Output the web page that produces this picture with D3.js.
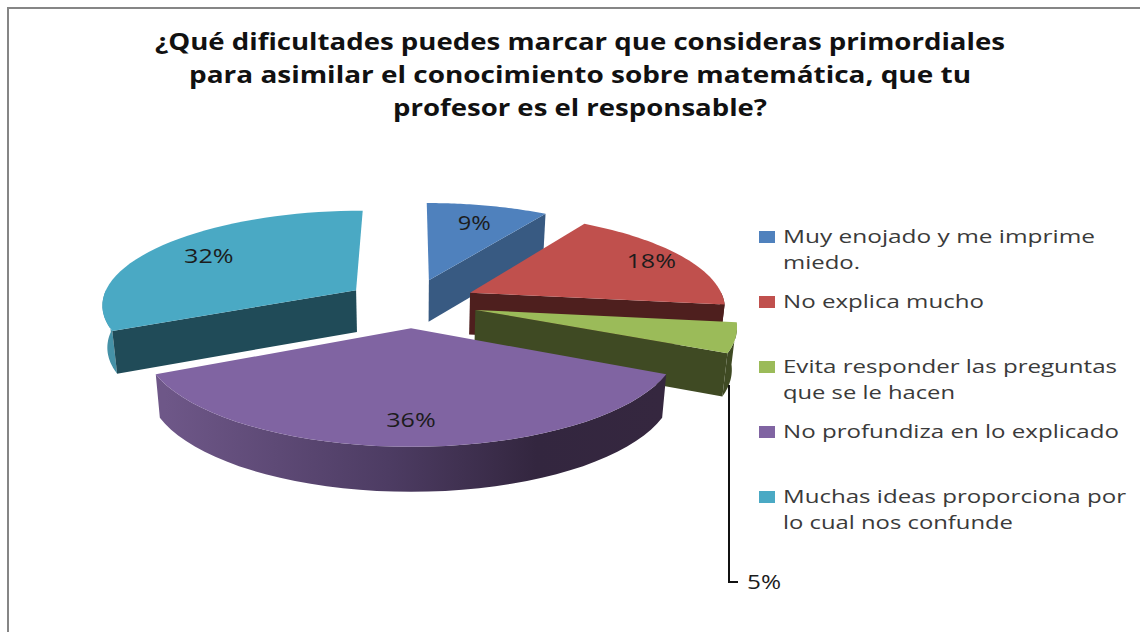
<!DOCTYPE html>
<html>
<head>
<meta charset="utf-8">
<script src="https://cdn.jsdelivr.net/npm/d3@7"></script>
<style>
  html, body { margin: 0; padding: 0; background: #fff; }
  svg { display: block; }
  text { font-family: "Open Sans", sans-serif; }
</style>
</head>
<body>
<svg id="chart" width="1140" height="632"></svg>
<script>
// values
var categories = ["Muy enojado y me imprime miedo.", "No explica mucho",
  "Evita responder las preguntas que se le hacen", "No profundiza en lo explicado",
  "Muchas ideas proporciona por lo cual nos confunde"];
var values = [9, 18, 5, 36, 32];
var titleLines = ["¿Qué dificultades puedes marcar que consideras primordiales",
  "para asimilar el conocimiento sobre matemática, que tu",
  "profesor es el responsable?"];
var legendLines = [["Muy enojado y me imprime", "miedo."], ["No explica mucho"],
  ["Evita responder las preguntas", "que se le hacen"], ["No profundiza en lo explicado"],
  ["Muchas ideas proporciona por", "lo cual nos confunde"]];

var topColors = ["#4f81bd", "#c0504d", "#9bbb59", "#8064a2", "#4aa9c4"];
var sideColors = ["#385a82", "#4e1f1e", "#3f4a23", "#4a3a60", "#204b58"];
var titleWidths = [850, 782, 374];
var legendWidths = [[312, 77], [201], [334, 172], [336], [343, 230]];
var labelRadius = [0.75, 0.85, 0, 0.8, 0.75];

var svg = d3.select("#chart");
var cx = 411, cy = 303;
var explode = 0.26, persp = 0.14;

var x = d3.scaleLinear().domain([-1, 1]).range([cx - 255, cx + 255]);
var y = d3.scaleLinear().domain([-1, 1]).range([cy + 94, cy - 94]);

var pie = d3.pie().sort(null).value(d => d);
var arcs = pie(values);

// ground plane to screen, with a little perspective
function project(px, py) {
  var s = 1 / (1 + persp * py);
  return {x: cx + (x(px) - cx) * s, y: cy + (y(py) - cy) * s, s: s};
}
function topPoint(d, a, r) {
  var mid = (d.startAngle + d.endAngle) / 2;
  return project(explode * Math.sin(mid) + r * Math.sin(a), explode * Math.cos(mid) + r * Math.cos(a));
}
function lower(p) {
  return {x: cx + (p.x - cx) * 0.984, y: p.y + 28 + 14 * p.s};
}
function arcPoints(d, a0, a1) {
  return d3.range(0, 41).map(i => topPoint(d, a0 + (a1 - a0) * i / 40, 1));
}
var line = d3.line().x(d => d.x).y(d => d.y);

var defs = svg.append("defs");
var grad = defs.append("linearGradient").attr("id", "purpleWall")
  .attr("gradientUnits", "userSpaceOnUse")
  .attr("x1", 165).attr("x2", 660).attr("y1", 0).attr("y2", 0);
grad.append("stop").attr("offset", "0").attr("stop-color", "#6e5788");
grad.append("stop").attr("offset", "0.45").attr("stop-color", "#4d3c63");
grad.append("stop").attr("offset", "0.75").attr("stop-color", "#33263f");
grad.append("stop").attr("offset", "1").attr("stop-color", "#35273f");

// frame
svg.append("path")
  .attr("d", "M8,632V8H1140")
  .attr("fill", "none").attr("stroke", "#868686").attr("stroke-width", 2);

// back to front
var order = [4, 0, 1, 2, 3];
var slices = svg.append("g");
order.forEach(function(i) {
  var d = arcs[i], g = slices.append("g");
  var apex = topPoint(d, 0, 0);
  var HALF = Math.PI / 2;

  // outer wall, only where it faces the viewer
  var a0 = Math.max(d.startAngle, HALF), a1 = Math.min(d.endAngle, 3 * HALF);
  if (a1 > a0) {
    var rim = arcPoints(d, a0, a1);
    g.append("path")
      .attr("d", line(rim.concat(rim.map(lower).reverse())) + "Z")
      .attr("fill", i == 3 ? "url(#purpleWall)" : (i == 4 ? "#4591a7" : sideColors[i]));
  }

  // cut face: the end edge on the right side of the pie, the start edge on the left
  var edge = i == 4 ? d.startAngle : d.endAngle;
  if (i != 3) {
    var outer = topPoint(d, edge, 1);
    g.append("path")
      .attr("d", line([apex, outer, lower(outer), lower(apex)]) + "Z")
      .attr("fill", sideColors[i]);
  }

  g.append("path")
    .attr("d", line([apex].concat(arcPoints(d, d.startAngle, d.endAngle))) + "Z")
    .attr("fill", topColors[i]);
});

// data labels
arcs.forEach(function(d, i) {
  if (i == 2) return;
  var mid = (d.startAngle + d.endAngle) / 2;
  var p = topPoint(d, mid, labelRadius[i]);
  svg.append("text")
    .attr("x", p.x).attr("y", p.y + 7)
    .attr("text-anchor", "middle")
    .attr("font-size", 20)
    .attr("textLength", (String(values[i]).length + 1) * 16.5)
    .attr("lengthAdjust", "spacingAndGlyphs")
    .attr("fill", "#1c1c1c")
    .text(values[i] + "%");
});

// 5% sits outside, on a leader line
svg.append("path")
  .attr("d", "M729,385V582H738")
  .attr("fill", "none").attr("stroke", "#111").attr("stroke-width", 2);
svg.append("text")
  .attr("x", 747).attr("y", 589)
  .attr("font-size", 20)
  .attr("textLength", 34).attr("lengthAdjust", "spacingAndGlyphs")
  .attr("fill", "#1c1c1c")
  .text(values[2] + "%");

// title
titleLines.forEach(function(t, i) {
  svg.append("text")
    .attr("x", 580).attr("y", 50 + i * 33)
    .attr("text-anchor", "middle")
    .attr("font-size", 23).attr("font-weight", 700)
    .attr("textLength", titleWidths[i]).attr("lengthAdjust", "spacingAndGlyphs")
    .attr("fill", "#111")
    .text(t);
});

// legend
var legend = svg.append("g");
categories.forEach(function(c, i) {
  var rowY = 237 + i * 65;
  legend.append("rect")
    .attr("x", 759).attr("y", rowY - 6).attr("width", 16).attr("height", 12)
    .attr("fill", topColors[i]);
  legendLines[i].forEach(function(t, j) {
    legend.append("text")
      .attr("x", 783).attr("y", rowY + 6 + j * 26)
      .attr("font-size", 19)
      .attr("textLength", legendWidths[i][j]).attr("lengthAdjust", "spacingAndGlyphs")
      .attr("fill", "#3a3a3a")
      .text(t);
  });
});
</script>
</body>
</html>
